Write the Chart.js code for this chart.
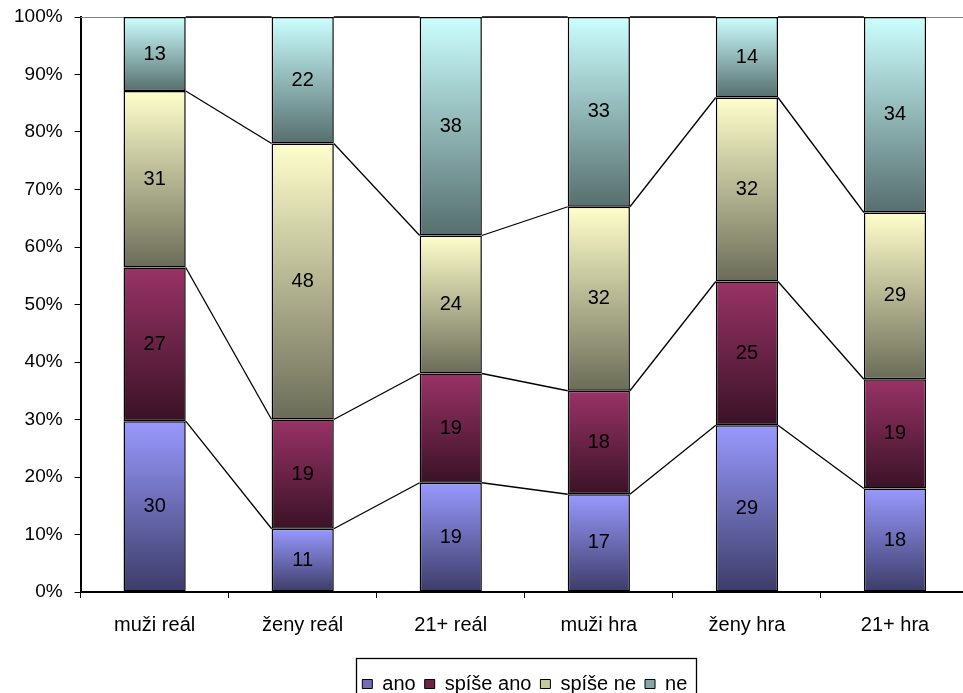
<!DOCTYPE html>
<html>
<head>
<meta charset="utf-8">
<script src="https://cdn.jsdelivr.net/npm/chart.js@4.4.1/dist/chart.umd.min.js"></script>
<style>
  html, body { margin: 0; padding: 0; background: #fff; overflow: hidden; }
  #wrap { width: 969px; height: 704px; position: relative; }
</style>
</head>
<body>
<div id="wrap"><canvas id="odpovediChart"></canvas></div>
<script>
const kategorie = ['muži reál', 'ženy reál', '21+ reál', 'muži hra', 'ženy hra', '21+ hra']
const ano = [30, 11, 19, 17, 29, 18]
const spiseAno = [27, 19, 19, 18, 25, 19]
const spiseNe = [31, 48, 24, 32, 32, 29]
const ne = [13, 22, 38, 33, 14, 34]
const serie = ['ano', 'spíše ano', 'spíše ne', 'ne']

const font = '"Liberation Sans", Arial, sans-serif'
// svetla barva nahore, tmava dole
const barvy = [
    ['#9999ff', '#3c3c68'],
    ['#993366', '#3a1226'],
    ['#ffffcc', '#6b6c58'],
    ['#ccffff', '#566e6e']
]
const legendaBarvy = ['#6f6fb8', '#6e2447', '#c8c8a0', '#84a8a8']

const hodnoty = [ano, spiseAno, spiseNe, ne]
const soucty = kategorie.map((k, i) => hodnoty.reduce((s, h) => s + h[i], 0))
// podil v procentech (100% skladany sloupec)
const podily = hodnoty.map(h => h.map((v, i) => v / soucty[i] * 100))

function gradient(d) {
    return (ctx) => {
        const chart = ctx.chart
        if (!chart.chartArea || ctx.type !== 'data') return barvy[d][0]
        const y = chart.scales.y
        const i = ctx.dataIndex
        let spodek = 0
        for (let k = 0; k < d; k++) spodek += podily[k][i]
        const vrch = spodek + podily[d][i]
        const g = chart.ctx.createLinearGradient(0, y.getPixelForValue(vrch), 0, y.getPixelForValue(spodek))
        g.addColorStop(0, barvy[d][0])
        g.addColorStop(1, barvy[d][1])
        return g
    }
}

// spojnice mezi sloupci + popisky hodnot + ramecek legendy
const spojnice = {
    id: 'spojnice',
    beforeDatasetsDraw(chart) {
        const {ctx, chartArea, scales: {y}} = chart
        const top = Math.round(y.getPixelForValue(100)) + 0.5
        ctx.save()
        ctx.strokeStyle = '#808080'
        ctx.lineWidth = 1
        ctx.beginPath()
        ctx.moveTo(chartArea.left, top)
        ctx.lineTo(chartArea.right, top)
        ctx.stroke()
        ctx.restore()
    },
    afterDatasetsDraw(chart) {
        const ctx = chart.ctx
        ctx.save()
        ctx.strokeStyle = '#000'
        ctx.lineWidth = 1.3
        chart.data.datasets.forEach((ds, d) => {
            const bars = chart.getDatasetMeta(d).data
            for (let i = 0; i < bars.length - 1; i++) {
                const a = bars[i], b = bars[i + 1]
                ctx.beginPath()
                ctx.moveTo(a.x + a.width / 2, a.y)
                ctx.lineTo(b.x - b.width / 2, b.y)
                ctx.stroke()
            }
        })
        ctx.fillStyle = '#000'
        ctx.font = '20px ' + font
        ctx.textAlign = 'center'
        ctx.textBaseline = 'middle'
        chart.data.datasets.forEach((ds, d) => {
            chart.getDatasetMeta(d).data.forEach((bar, i) => {
                ctx.fillText(ds.hodnoty[i], bar.x, (bar.y + bar.base) / 2)
            })
        })
        ctx.restore()
    },
    afterDraw(chart) {
        const boxes = chart.legend.legendHitBoxes
        if (!boxes || !boxes.length) return
        const ctx = chart.ctx
        const last = boxes[boxes.length - 1]
        const left = boxes[0].left - 6
        const right = last.left + last.width + 9
        const top = boxes[0].top + boxes[0].height / 2 - 26
        ctx.save()
        ctx.strokeStyle = '#000'
        ctx.lineWidth = 1.3
        ctx.strokeRect(Math.round(left) + 0.5, Math.round(top) + 0.5, Math.round(right - left), 60)
        ctx.restore()
    }
}

const odpovediChart = new Chart(document.getElementById('odpovediChart'), {
    type: 'bar',
    data: {
        labels: kategorie,
        datasets: serie.map((s, d) => ({
            label: s,
            data: podily[d],
            hodnoty: hodnoty[d],
            backgroundColor: gradient(d),
            borderColor: '#000',
            borderWidth: 1.5,
            borderSkipped: false,
            barPercentage: 0.42,
            categoryPercentage: 1
        }))
    },
    plugins: [spojnice],
    options: {
        responsive: true,
        maintainAspectRatio: false,
        animation: false,
        layout: {padding: {left: 2, top: 17, right: 0, bottom: 0}},
        plugins: {
            tooltip: {enabled: false},
            legend: {
                position: 'bottom',
                fullSize: false,
                labels: {
                    color: '#000',
                    font: {family: font, size: 20},
                    boxWidth: 10,
                    boxHeight: 9,
                    padding: 9,
                    generateLabels: () => serie.map((s, d) => ({
                        text: s,
                        fillStyle: legendaBarvy[d],
                        strokeStyle: '#000',
                        lineWidth: 1,
                        datasetIndex: d
                    }))
                }
            }
        },
        scales: {
            x: {
                stacked: true,
                offset: true,
                grid: {offset: true, drawOnChartArea: false, tickLength: 6, color: '#000', lineWidth: 1},
                border: {color: '#000', width: 2},
                ticks: {color: '#000', font: {family: font, size: 20}, padding: 15},
                afterFit: (scale) => { scale.height += 13 }
            },
            y: {
                stacked: true,
                min: 0,
                max: 100,
                grid: {drawOnChartArea: false, tickLength: 6, color: '#000', lineWidth: 1},
                border: {color: '#000', width: 2},
                ticks: {
                    stepSize: 10,
                    color: '#000',
                    font: {family: font, size: 19},
                    padding: 12,
                    callback: (v) => v + '%'
                },
                afterFit: (scale) => { scale.paddingTop = 0; scale.paddingBottom = 0 }
            }
        }
    }
});
</script>
</body>
</html>
